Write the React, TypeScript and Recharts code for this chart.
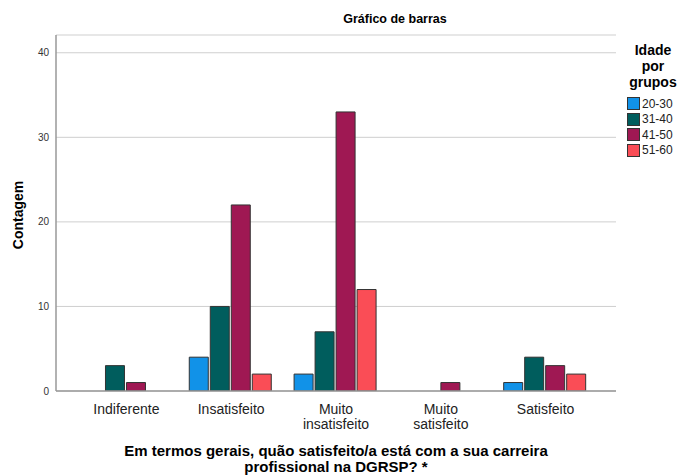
import React from "react";
import { BarChart, Bar, XAxis, YAxis, CartesianGrid } from "recharts";

const categories = ["Indiferente", "Insatisfeito", "Muito insatisfeito", "Muito satisfeito", "Satisfeito"];
const g2030 = [0, 4, 2, 0, 1];
const g3140 = [3, 10, 7, 0, 4];
const g4150 = [1, 22, 33, 1, 3];
const g5160 = [0, 2, 12, 0, 2];
const seriesNames = ["20-30", "31-40", "41-50", "51-60"];
const colors = ["#1192e8", "#005d5d", "#9f1853", "#fa4d56"];
const yTicks = [0, 10, 20, 30, 40];

const data = categories.map((c, i) => ({
  cat: c,
  "20-30": g2030[i],
  "31-40": g3140[i],
  "41-50": g4150[i],
  "51-60": g5160[i],
}));

const FONT = "'Liberation Sans', Arial, sans-serif";

const CatTick = (props: any) => {
  const { x, y, payload } = props;
  const words = String(payload.value).split(" ");
  return (
    <g transform={`translate(${x},${y})`}>
      {words.map((w: string, i: number) => (
        <text key={i} x={0} y={i * 15} dy={15} textAnchor="middle" fill="#222" fontSize={14} fontFamily={FONT}>
          {w}
        </text>
      ))}
    </g>
  );
};

export default function App() {
  return (
    <div style={{ position: "absolute", left: 0, top: 0, width: 678, height: 475, background: "#fff", fontFamily: FONT }}>
      <BarChart
        width={678}
        height={475}
        data={data}
        margin={{ top: 35, right: 62, bottom: 0, left: 26 }}
        barCategoryGap="10%"
        barGap={2}
      >
        <CartesianGrid vertical={false} stroke="#cfcfcf" strokeWidth={1} />
        <XAxis
          dataKey="cat"
          tick={<CatTick />}
          tickLine={false}
          axisLine={{ stroke: "#999", strokeWidth: 1.5 }}
          padding={{ left: 18, right: 18 }}
          interval={0}
          height={84}
        />
        <YAxis
          width={30}
          domain={[0, 42.1]}
          ticks={yTicks}
          tickLine={false}
          tickSize={0}
          tickMargin={7}
          axisLine={{ stroke: "#999", strokeWidth: 1.5 }}
          tick={{ fill: "#333", fontSize: 10, fontFamily: FONT }}
          allowDataOverflow
        />
        {seriesNames.map((s, i) => (
          <Bar key={s} dataKey={s} fill={colors[i]} stroke="#333" strokeWidth={1} isAnimationActive={false} />
        ))}
      </BarChart>

      <div style={{ position: "absolute", left: 0, top: 12, width: 790, textAlign: "center", fontSize: 12.5, fontWeight: "bold", color: "#000" }}>
        Gráfico de barras
      </div>

      <div
        style={{
          position: "absolute",
          left: 18,
          top: 215,
          transform: "translate(-50%, -50%) rotate(-90deg)",
          fontSize: 14,
          fontWeight: "bold",
          color: "#000",
          whiteSpace: "nowrap",
        }}
      >
        Contagem
      </div>

      <div style={{ position: "absolute", left: 36, top: 443, width: 600, textAlign: "center", fontSize: 15, fontWeight: "bold", color: "#000", lineHeight: "16px" }}>
        Em termos gerais, quão satisfeito/a está com a sua carreira
        <br />
        profissional na DGRSP? *
      </div>

      <div style={{ position: "absolute", left: 620, top: 42, width: 66, textAlign: "center", fontSize: 14, fontWeight: "bold", color: "#000", lineHeight: "16px" }}>
        Idade
        <br />
        por
        <br />
        grupos
      </div>
      <div style={{ position: "absolute", left: 627, top: 96 }}>
        {seriesNames.map((s, i) => (
          <div key={s} style={{ display: "flex", alignItems: "center", height: 15.5, fontSize: 12, color: "#222" }}>
            <div style={{ width: 11, height: 11, background: colors[i], border: "1px solid #333", marginRight: 2 }} />
            {s}
          </div>
        ))}
      </div>
    </div>
  );
}
